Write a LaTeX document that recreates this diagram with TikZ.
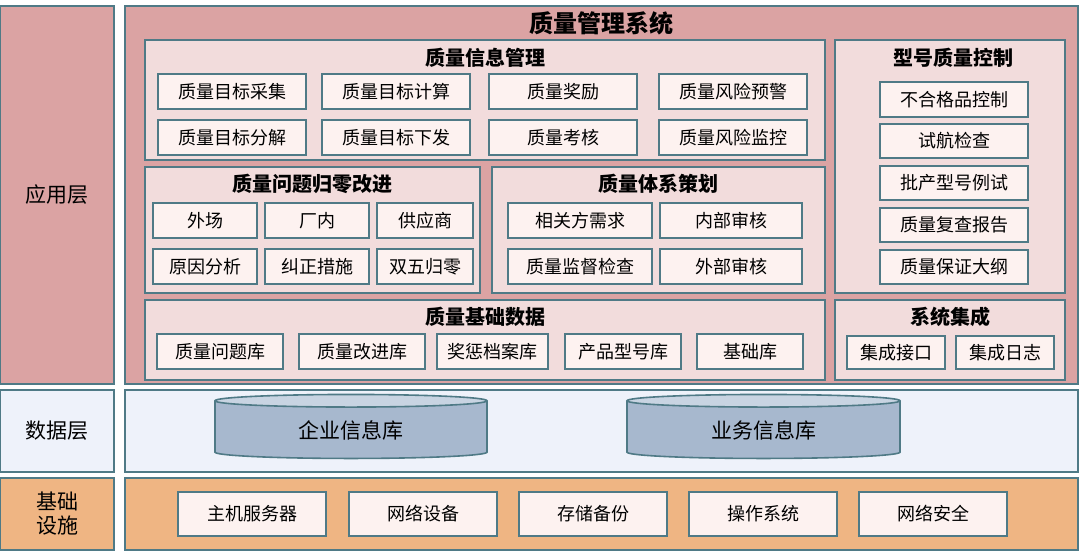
\documentclass[tikz,border=0pt]{standalone}
\usepackage{fontspec}
\setmainfont{Noto Sans CJK SC}
\usetikzlibrary{shapes.geometric}
\definecolor{edge}{HTML}{4F7A86}
\definecolor{appbg}{HTML}{DBA3A3}
\definecolor{panel}{HTML}{F2DCDC}
\definecolor{itembg}{HTML}{FDF2F0}
\definecolor{databg}{HTML}{EEF2FA}
\definecolor{dbfill}{HTML}{A7B8CE}
\definecolor{dbtop}{HTML}{C8D4E2}
\definecolor{infrabg}{HTML}{EFB583}
% box from pixel corners: style, name, x1, y1, x2, y2, text
\newcommand{\pbox}[7]{\node[#1,minimum width={(#5-#3)*0.5pt},minimum height={(#6-#4)*0.5pt}] (#2) at ({(#3+#5)/2},{(#4+#6)/2}) {#7};}
\begin{document}
\begin{tikzpicture}[x=0.5pt,y=-0.5pt,
   font=\fontsize{9pt}{10pt}\selectfont,
   layer/.style={draw=edge,thick,inner sep=0pt},
   panel/.style={draw=edge,thick,fill=panel,inner sep=0pt},
   item/.style={draw=edge,thick,fill=itembg,inner sep=0pt},
   head/.style={font=\fontsize{10pt}{11pt}\selectfont\bfseries},
   db/.style={cylinder,shape border rotate=90,aspect=0.12,draw=edge,thick,cylinder uses custom fill,cylinder body fill=dbfill,cylinder end fill=dbtop,inner sep=0pt,font=\fontsize{10.5pt}{12pt}\selectfont}]
\useasboundingbox (0,0) rectangle (1080,557);
% layer labels
\pbox{layer,fill=appbg,font=\fontsize{10.5pt}{12pt}\selectfont}{app}{0}{6}{114}{384}{应用层}
\pbox{layer,fill=databg,font=\fontsize{10.5pt}{12pt}\selectfont}{data}{0}{390}{114}{472}{数据层}
\pbox{layer,fill=infrabg,font=\fontsize{10.5pt}{12pt}\selectfont,align=center}{infra}{0}{478}{114}{550}{基础\\设施}
% main areas
\pbox{layer,fill=appbg}{appA}{125}{6}{1078}{384}{}
\node[head,font=\fontsize{12pt}{13pt}\selectfont\bfseries] (sys) at (601,23) {质量管理系统};
\pbox{layer,fill=databg}{dataA}{125}{390}{1078}{472}{}
\pbox{layer,fill=infrabg}{infraA}{125}{478}{1078}{550}{}
% quality information
\pbox{panel}{info}{145}{40}{825}{160}{}
\node[head] (infoT) at (485,58) {质量信息管理};
\pbox{item}{i1}{158}{74}{306}{109}{质量目标采集}
\pbox{item}{i2}{322}{74}{470}{109}{质量目标计算}
\pbox{item}{i3}{489}{74}{637}{109}{质量奖励}
\pbox{item}{i4}{659}{74}{807}{109}{质量风险预警}
\pbox{item}{i5}{158}{120}{306}{155}{质量目标分解}
\pbox{item}{i6}{322}{120}{470}{155}{质量目标下发}
\pbox{item}{i7}{489}{120}{637}{155}{质量考核}
\pbox{item}{i8}{659}{120}{807}{155}{质量风险监控}
% problem closure
\pbox{panel}{prob}{145}{167}{480}{293}{}
\node[head] (probT) at (312,184) {质量问题归零改进};
\pbox{item}{p1}{153}{203}{257}{238}{外场}
\pbox{item}{p2}{265}{203}{369}{238}{厂内}
\pbox{item}{p3}{377}{203}{473}{238}{供应商}
\pbox{item}{p4}{153}{249}{257}{284}{原因分析}
\pbox{item}{p5}{265}{249}{369}{284}{纠正措施}
\pbox{item}{p6}{377}{249}{473}{284}{双五归零}
% system planning
\pbox{panel}{plan}{492}{167}{825}{293}{}
\node[head] (planT) at (658,184) {质量体系策划};
\pbox{item}{s1}{508}{203}{652}{238}{相关方需求}
\pbox{item}{s2}{660}{203}{802}{238}{内部审核}
\pbox{item}{s3}{508}{249}{652}{284}{质量监督检查}
\pbox{item}{s4}{660}{249}{802}{284}{外部审核}
% base data
\pbox{panel}{base}{145}{300}{825}{380}{}
\node[head] (baseT) at (485,317) {质量基础数据};
\pbox{item}{b1}{157}{334}{283}{369}{质量问题库}
\pbox{item}{b2}{299}{334}{425}{369}{质量改进库}
\pbox{item}{b3}{437}{334}{548}{369}{奖惩档案库}
\pbox{item}{b4}{565}{334}{681}{369}{产品型号库}
\pbox{item}{b5}{697}{334}{803}{369}{基础库}
% model control
\pbox{panel}{model}{835}{40}{1065}{293}{}
\node[head] (modelT) at (953,58) {型号质量控制};
\pbox{item}{m1}{880}{82}{1028}{117}{不合格品控制}
\pbox{item}{m2}{880}{124}{1028}{158}{试航检查}
\pbox{item}{m3}{880}{166}{1028}{200}{批产型号例试}
\pbox{item}{m4}{880}{208}{1028}{242}{质量复查报告}
\pbox{item}{m5}{880}{250}{1028}{284}{质量保证大纲}
% integration
\pbox{panel}{integ}{835}{300}{1065}{380}{}
\node[head] (integT) at (950,317) {系统集成};
\pbox{item}{g1}{847}{336}{945}{369}{集成接口}
\pbox{item}{g2}{956}{336}{1054}{369}{集成日志}
% databases
\pbox{db}{db1}{215}{398}{487}{462}{企业信息库}
\pbox{db}{db2}{627}{398}{900}{462}{业务信息库}
% infrastructure
\pbox{item}{f1}{178}{492}{326}{536}{主机服务器}
\pbox{item}{f2}{349}{492}{497}{536}{网络设备}
\pbox{item}{f3}{519}{492}{667}{536}{存储备份}
\pbox{item}{f4}{689}{492}{837}{536}{操作系统}
\pbox{item}{f5}{859}{492}{1007}{536}{网络安全}
\end{tikzpicture}
\end{document}
